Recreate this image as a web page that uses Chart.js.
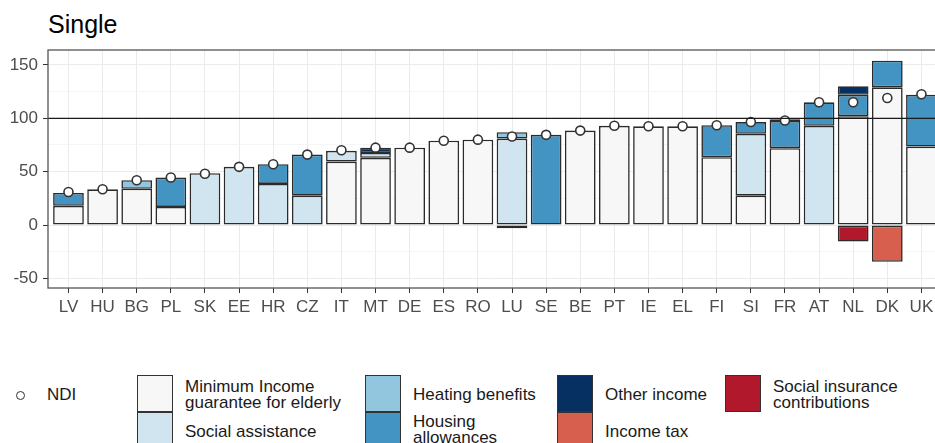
<!DOCTYPE html>
<html><head><meta charset="utf-8">
<script src="https://cdn.jsdelivr.net/npm/chart.js@4.4.1/dist/chart.umd.min.js"></script>
<style>
html,body{margin:0;padding:0;background:#fff;}
body{width:935px;height:443px;overflow:hidden;position:relative;font-family:"Liberation Sans",Arial,sans-serif;}
#title{position:absolute;left:48px;top:12px;font-size:25px;line-height:25px;color:#000;}
#chart{position:absolute;left:0;top:0;}
.key{position:absolute;width:36px;height:37px;box-sizing:border-box;border:1.5px solid #333;}
.lab{position:absolute;font-size:17px;line-height:16px;color:#1a1a1a;white-space:nowrap;}
.dot{position:absolute;width:9px;height:9px;border:1.5px solid #333;border-radius:50%;background:#fff;box-sizing:border-box;}
</style></head>
<body>
<div id="title">Single</div>
<canvas id="chart" width="948" height="318"></canvas>
<div id="legend"></div>
<script>
// ---- data ----
const categories = ['LV','HU','BG','PL','SK','EE','HR','CZ','IT','MT','DE','ES','RO','LU','SE','BE','PT','IE','EL','FI','SI','FR','AT','NL','DK','UK'];
const minIncomeElderly = [18, 33.5, 34, 17, null, null, null, null, 59.5, 63, 72.5, 79, 80, null, null, 88.5, 93, 92.5, 92.5, 63.5, 27.5, 72, null, 102, 129, 73.5];
const socialAssistance = [null, null, null, null, 48.5, 54.5, 38.5, 27.5, 10, 4.5, null, null, null, 81, null, null, null, null, null, null, 58, null, 93, null, null, null];
const heatingBenefits  = [null, null, 8, null, null, null, null, null, null, null, null, null, null, 6, null, null, null, null, null, null, null, null, null, null, null, null];
const housingAllow     = [12, null, null, 27.5, null, null, 18.5, 38.5, null, null, null, null, null, null, 84.5, null, null, null, null, 30, 11, 25.5, 22, 20, 25, 48.5];
const otherIncome      = [null, null, null, null, null, null, null, null, null, 5, null, null, null, null, null, null, null, null, null, null, null, 1.5, null, 8, null, null];
const incomeTax        = [null, null, null, null, null, null, null, null, null, null, null, null, null, null, null, null, null, null, null, null, null, null, null, null, -34.5, null];
const socialInsurance  = [null, null, null, null, null, null, null, null, null, null, null, null, null, -3, null, null, null, null, null, null, null, null, null, -15.5, null, null];
const ndi = [31, 33.5, 42, 44.5, 48, 54.5, 57, 66, 70, 72.5, 72.5, 79, 80, 83, 84.5, 88.5, 93, 92.5, 92.5, 93.5, 96.5, 98, 115, 115, 119, 122.5];
const yTicks = [-50, 0, 50, 100, 150];
const refLine = 100;

// ---- styles ----
const COLORS = {
  mig: '#F7F7F7', sa: '#D1E5F0', heat: '#92C5DE', house: '#4393C3',
  other: '#053061', tax: '#D6604D', sic: '#B2182B'
};
const toXY = arr => arr.map((v, i) => ({x: i, y: v})).filter(p => p.y !== null);

const barSeries = [
  ['Minimum Income guarantee for elderly', minIncomeElderly, COLORS.mig],
  ['Social assistance', socialAssistance, COLORS.sa],
  ['Heating benefits', heatingBenefits, COLORS.heat],
  ['Housing allowances', housingAllow, COLORS.house],
  ['Other income', otherIncome, COLORS.other],
  ['Income tax', incomeTax, COLORS.tax],
  ['Social insurance contributions', socialInsurance, COLORS.sic]
];

const datasets = [{
  type: 'line', label: 'NDI', data: toXY(ndi), showLine: false, order: 0, stack: 'ndi',
  pointRadius: 4.5, pointHoverRadius: 4.5, pointBackgroundColor: '#fff',
  pointBorderColor: '#333', pointBorderWidth: 1.6
}].concat(barSeries.map(([label, arr, color]) => ({
  type: 'bar', label, data: toXY(arr), backgroundColor: color, borderColor: '#2b2b2b',
  borderWidth: 1.6, borderSkipped: false, order: 1, stack: 'bars',
  categoryPercentage: 1, barPercentage: 0.9
})));

const FONT = {family: "'Liberation Sans', Arial, sans-serif", size: 17};

const panel = {
  id: 'panel',
  afterDatasetsDraw(chart) {
    const {ctx, chartArea: a, scales: {y}} = chart;
    const py = y.getPixelForValue(refLine);
    ctx.save();
    ctx.strokeStyle = '#1a1a1a'; ctx.lineWidth = 1.3;
    ctx.beginPath(); ctx.moveTo(a.left, py); ctx.lineTo(a.right, py); ctx.stroke();
    ctx.restore();
  },
  afterDraw(chart) {
    const {ctx, chartArea: a} = chart;
    ctx.save();
    ctx.strokeStyle = '#555'; ctx.lineWidth = 1.3;
    ctx.strokeRect(a.left, a.top, a.right - a.left, a.bottom - a.top);
    ctx.restore();
  }
};

new Chart(document.getElementById('chart'), {
  type: 'bar',
  data: {datasets},
  plugins: [panel],
  options: {
    responsive: false, animation: false, events: [],
    layout: {padding: {top: 50, right: 1, left: 0, bottom: 0}},
    plugins: {legend: {display: false}, tooltip: {enabled: false}, title: {display: false}},
    scales: {
      x: {
        type: 'linear', min: -0.6, max: 25.6, stacked: true, offset: false,
        afterFit(s) { s.height = 30; },
        border: {display: false},
        grid: {offset: false, color: '#EBEBEB', lineWidth: 1, tickColor: '#333', tickLength: 5, drawTicks: true},
        ticks: {stepSize: 1, autoSkip: false, maxRotation: 0, includeBounds: false, padding: 4,
          color: '#4D4D4D', font: FONT, callback: v => categories[v] ?? ''}
      },
      y: {
        type: 'linear', min: -59, max: 164, stacked: true,
        afterFit(s) { s.width = 48; },
        border: {display: false},
        grid: {
          color: c => yTicks.includes(c.tick.value) ? '#EBEBEB' : '#F2F2F2',
          lineWidth: c => yTicks.includes(c.tick.value) ? 1 : 0.7,
          tickColor: c => yTicks.includes(c.tick.value) ? '#333' : 'rgba(0,0,0,0)',
          tickLength: 5, drawTicks: true
        },
        ticks: {stepSize: 25, includeBounds: false, autoSkip: false, padding: 5, color: '#4D4D4D', font: FONT,
          callback: v => yTicks.includes(v) ? String(v) : ''}
      }
    }
  }
});

// ---- legend (HTML) ----
const legendLayout = [
  {kind: 'dot', x: 16, y: 391, label: ['NDI'], lx: 47, ly: 387},
  {kind: 'key', x: 137, y: 375, color: COLORS.mig, label: ['Minimum Income', 'guarantee for elderly'], lx: 185, ly: 379},
  {kind: 'key', x: 137, y: 412, color: COLORS.sa, label: ['Social assistance'], lx: 185, ly: 424},
  {kind: 'key', x: 365, y: 375, color: COLORS.heat, label: ['Heating benefits'], lx: 413, ly: 387},
  {kind: 'key', x: 365, y: 412, color: COLORS.house, label: ['Housing', 'allowances'], lx: 413, ly: 414},
  {kind: 'key', x: 557, y: 375, color: COLORS.other, label: ['Other income'], lx: 605, ly: 387},
  {kind: 'key', x: 557, y: 412, color: COLORS.tax, label: ['Income tax'], lx: 605, ly: 424},
  {kind: 'key', x: 725, y: 375, color: COLORS.sic, label: ['Social insurance', 'contributions'], lx: 773, ly: 379}
];
const lg = document.getElementById('legend');
for (const it of legendLayout) {
  const m = document.createElement('div');
  m.className = it.kind;
  m.style.left = it.x + 'px'; m.style.top = it.y + 'px';
  if (it.color) m.style.background = it.color;
  lg.appendChild(m);
  const t = document.createElement('div');
  t.className = 'lab';
  t.style.left = it.lx + 'px'; t.style.top = it.ly + 'px';
  it.label.forEach((line, i) => { if (i) t.appendChild(document.createElement('br')); t.appendChild(document.createTextNode(line)); });
  lg.appendChild(t);
}
</script>
</body></html>
